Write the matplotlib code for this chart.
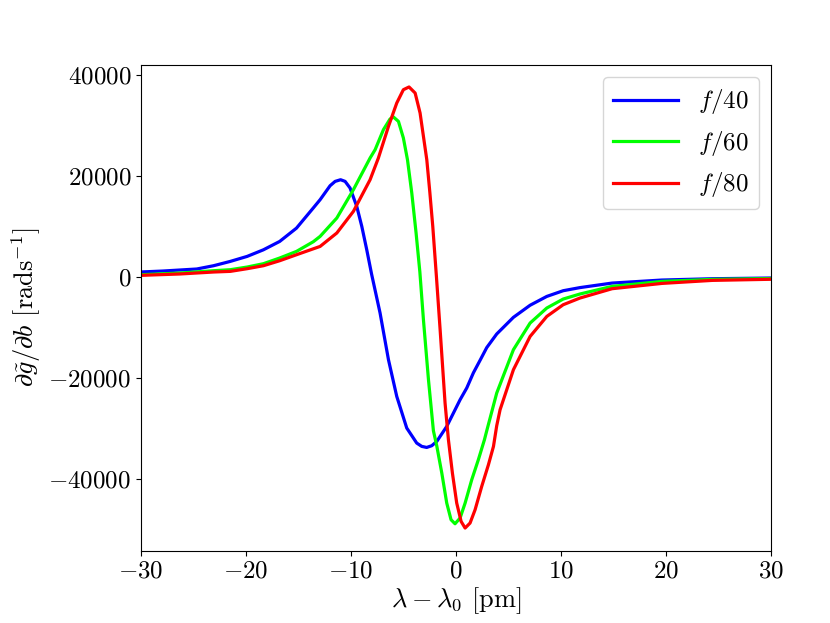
import matplotlib
matplotlib.use('Agg')
import matplotlib.pyplot as plt

plt.rcParams['mathtext.fontset'] = 'cm'
plt.rcParams['font.family'] = 'serif'
plt.rcParams['font.serif'] = ['cmr10']
plt.rcParams['axes.formatter.use_mathtext'] = True
plt.rcParams['axes.unicode_minus'] = True
plt.rcParams['font.size'] = 18

# detuning [pm] and derivative values
x_f40 = [-30, -27.9, -24.7, -23.1, -21.5, -19.9, -18.35, -16.8, -15.2, -13.6, -12.95,
         -12.0, -11.52, -11.0, -10.57, -10.1, -9.46, -8.98, -8.51, -8.05, -7.24, -6.44,
         -5.65, -4.7, -3.75, -3.27, -2.8, -2.32, -1.84, -0.89, 0.38, 1.02, 1.65, 2.29,
         2.92, 3.87, 5.46, 7.05, 8.64, 10.2, 11.8, 14.86, 19.6, 24.4, 30]
y_f40 = [1000, 1190, 1590, 2240, 3100, 4090, 5400, 7060, 9700, 13700, 15340,
         18110, 18970, 19300, 18970, 17660, 14010, 10040, 5420, 600, -7140, -16410,
         -23690, -29960, -32940, -33600, -33810, -33470, -32620, -29640, -24350, -22000, -19000, -16500,
         -14000, -11300, -8000, -5600, -3850, -2720, -2100, -1200, -600, -340, -200]

x_f60 = [-30, -26.3, -23.1, -21.5, -19.9, -18.35, -16.8, -15.2, -13.6, -12.95, -11.36,
         -9.78, -8.19, -7.71, -6.92, -6.29, -5.97, -5.49, -5.02, -4.63, -4.22, -3.81,
         -3.45, -3.11, -2.63, -2.16, -1.84, -1.36, -0.89, -0.48, -0.1, 0.38, 0.86, 1.49,
         2.12, 2.7, 2.92, 3.87, 5.46, 7.05, 8.64, 10.2, 11.8, 14.86, 19.6, 24.4, 30]
y_f60 = [460, 790, 1250, 1450, 1980, 2640, 3770, 5080, 7000, 8060, 11700,
         17320, 23610, 25260, 29230, 31350, 31750, 30870, 27580, 23270, 16670, 8730,
         1000, -8470, -20380, -30500, -33500, -38900, -44840, -48150, -48950, -47820, -44840, -40220,
         -36250, -32280, -30500, -23020, -14420, -9130, -6150, -4370, -3370, -1860, -870, -470, -300]

x_f80 = [-30, -26.3, -23.1, -21.5, -19.9, -18.35, -16.8, -15.2, -12.95, -11.36, -9.78,
         -8.19, -7.4, -6.44, -5.65, -5.02, -4.48, -3.9, -3.43, -3.11, -2.79, -2.5,
         -2.22, -1.87, -1.52, -1.05, -0.73, -0.35, 0.06, 0.48, 0.86, 1.33, 1.81, 2.44,
         3.08, 3.56, 3.87, 4.19, 5.46, 7.05, 8.64, 10.2, 11.8, 14.86, 19.6, 24.4, 30]
y_f80 = [330, 600, 990, 1120, 1650, 2240, 3230, 4420, 6070, 8730, 13020,
         19300, 23610, 29880, 34520, 37160, 37700, 36500, 32540, 27900, 23270, 16800,
         10040, 0, -10460, -25000, -32280, -38900, -44840, -48490, -49800, -48810, -46170, -41550,
         -37240, -33610, -29500, -26330, -18390, -11790, -7820, -5500, -4170, -2320, -1270, -670, -450]

series = [(x_f40, y_f40, 'blue', r'$f/40$'),
          (x_f60, y_f60, 'lime', r'$f/60$'),
          (x_f80, y_f80, 'red', r'$f/80$')]

fig = plt.figure(figsize=(8.3, 6.23), dpi=100)
ax = fig.add_subplot(111)
fig.subplots_adjust(left=0.17, right=0.929, top=0.896, bottom=0.116)

for xs, ys, c, lab in series:
    ax.plot(xs, ys, color=c, lw=2.3, label=lab)

ax.set_xlim(-30, 30)
ax.set_ylim(-54300, 42100)
ax.set_yticks([-40000, -20000, 0, 20000, 40000])
ax.set_xlabel(r'$\lambda - \lambda_0$ [pm]', fontsize=19, labelpad=2)
ax.set_ylabel(r'$\partial\tilde{g}/\partial b$ [rads$^{-1}$]', fontsize=19)
ax.legend(loc='upper right', handlelength=2.6, fontsize=18)

fig.savefig('out.png', dpi=100)
